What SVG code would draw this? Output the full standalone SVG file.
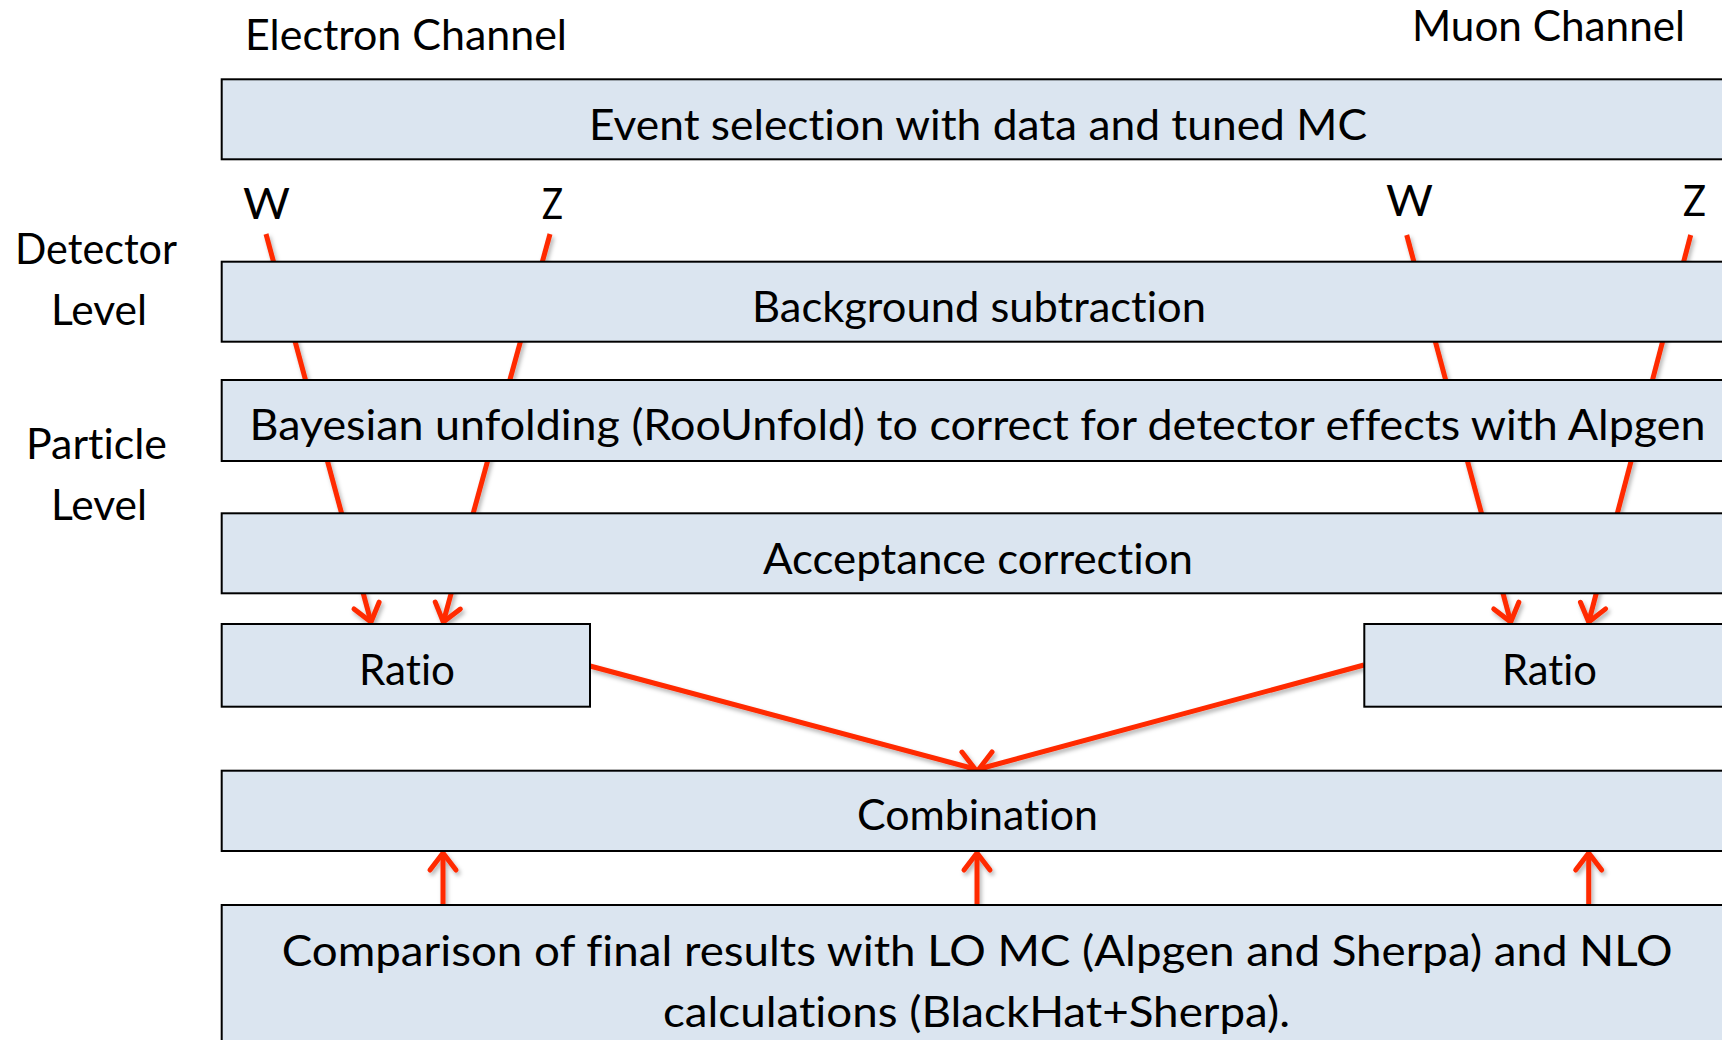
<svg xmlns="http://www.w3.org/2000/svg" width="1722" height="1040" viewBox="0 0 1722 1040">
  <defs>
    <style>
      .box { fill: #DBE5F0; stroke: #000; stroke-width: 2; }
      .t { font-family: Lato, "Liberation Sans", sans-serif; font-size: 42px; fill: #000; font-variant-ligatures: none; }
      .conn { fill: none; stroke: #FF2A00; stroke-width: 5; stroke-linecap: butt; }
    </style>
    <marker id="arr" markerUnits="userSpaceOnUse" viewBox="-22 -16 26 32" markerWidth="26" markerHeight="32" refX="0" refY="0" orient="auto" overflow="visible">
      <path d="M-17,-13 L0,0 L-17,13" fill="none" stroke="#FF2A00" stroke-width="5" stroke-linecap="round" stroke-linejoin="round"/>
    </marker>
    <filter id="sh" x="-10%" y="-10%" width="120%" height="120%">
      <feDropShadow dx="2" dy="3" stdDeviation="2" flood-color="#000" flood-opacity="0.3"/>
    </filter>
  </defs>
  <rect width="1722" height="1040" fill="#fff"/>

  <g id="connectors" filter="url(#sh)">
    <line class="conn" x1="266" y1="234" x2="371" y2="622" marker-end="url(#arr)"/>
    <line class="conn" x1="550" y1="234" x2="443.3" y2="622" marker-end="url(#arr)"/>
    <line class="conn" x1="1406.7" y1="235" x2="1510.7" y2="622" marker-end="url(#arr)"/>
    <line class="conn" x1="1690.7" y1="235" x2="1588.7" y2="622" marker-end="url(#arr)"/>
    <line class="conn" x1="590" y1="666" x2="975" y2="769" marker-end="url(#arr)"/>
    <line class="conn" x1="1364" y1="665" x2="979" y2="769" marker-end="url(#arr)"/>
    <line class="conn" x1="443" y1="905" x2="443" y2="853" marker-end="url(#arr)"/>
    <line class="conn" x1="977" y1="905" x2="977" y2="853" marker-end="url(#arr)"/>
    <line class="conn" x1="1588.7" y1="905" x2="1588.7" y2="853" marker-end="url(#arr)"/>
  </g>

  <g id="labels">
    <text class="t" x="245" y="50" textLength="322" lengthAdjust="spacingAndGlyphs">Electron Channel</text>
    <text class="t" x="1412" y="41" textLength="273" lengthAdjust="spacingAndGlyphs">Muon Channel</text>
    <text class="t" x="243" y="219" textLength="47" lengthAdjust="spacingAndGlyphs">W</text>
    <text class="t" x="542" y="219" textLength="21" lengthAdjust="spacingAndGlyphs">Z</text>
    <text class="t" x="1386" y="216" textLength="47" lengthAdjust="spacingAndGlyphs">W</text>
    <text class="t" x="1683" y="216" textLength="23" lengthAdjust="spacingAndGlyphs">Z</text>
    <text class="t" x="15" y="264" textLength="162" lengthAdjust="spacingAndGlyphs">Detector</text>
    <text class="t" x="51" y="325" textLength="96" lengthAdjust="spacingAndGlyphs">Level</text>
    <text class="t" x="26" y="459" textLength="141" lengthAdjust="spacingAndGlyphs">Particle</text>
    <text class="t" x="51" y="520" textLength="96" lengthAdjust="spacingAndGlyphs">Level</text>
  </g>

  <g id="event">
    <rect class="box" x="221.7" y="79.3" width="1512" height="80"/>
    <text class="t" x="589" y="140" textLength="778" lengthAdjust="spacingAndGlyphs">Event selection with data and tuned MC</text>
  </g>
  <g id="background">
    <rect class="box" x="221.7" y="261.7" width="1512" height="80"/>
    <text class="t" x="752" y="322" textLength="454" lengthAdjust="spacingAndGlyphs">Background subtraction</text>
  </g>
  <g id="unfolding">
    <rect class="box" x="221.7" y="380" width="1512" height="81"/>
    <text class="t" x="249.5" y="440" textLength="1456" lengthAdjust="spacingAndGlyphs">Bayesian unfolding (RooUnfold) to correct for detector effects with Alpgen</text>
  </g>
  <g id="acceptance">
    <rect class="box" x="221.7" y="513.3" width="1512" height="80"/>
    <text class="t" x="763" y="574" textLength="430" lengthAdjust="spacingAndGlyphs">Acceptance correction</text>
  </g>
  <g id="ratio-electron">
    <rect class="box" x="221.7" y="624" width="368.3" height="82.7"/>
    <text class="t" x="359" y="685" textLength="96" lengthAdjust="spacingAndGlyphs">Ratio</text>
  </g>
  <g id="ratio-muon">
    <rect class="box" x="1364.3" y="624" width="370" height="82.7"/>
    <text class="t" x="1502" y="685" textLength="95" lengthAdjust="spacingAndGlyphs">Ratio</text>
  </g>
  <g id="combination">
    <rect class="box" x="221.7" y="770.7" width="1512" height="80.3"/>
    <text class="t" x="857" y="830" textLength="241" lengthAdjust="spacingAndGlyphs">Combination</text>
  </g>
  <g id="comparison">
    <rect class="box" x="221.7" y="905" width="1512" height="160"/>
    <text class="t" x="281.7" y="966" textLength="1391" lengthAdjust="spacingAndGlyphs">Comparison of final results with LO MC (Alpgen and Sherpa) and NLO</text>
    <text class="t" x="663" y="1027" textLength="627" lengthAdjust="spacingAndGlyphs">calculations (BlackHat+Sherpa).</text>
  </g>
</svg>
